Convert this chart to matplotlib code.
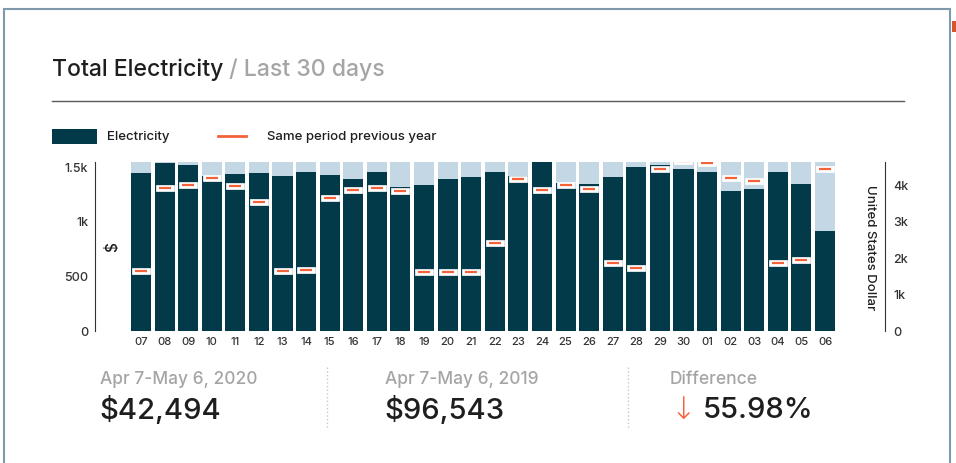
import matplotlib.pyplot as plt
from matplotlib.patches import Rectangle
from matplotlib.lines import Line2D

plt.rcParams['font.family'] = ['Inter', 'DejaVu Sans']
plt.rcParams['font.weight'] = 'medium'

# data
days = ['07', '08', '09', '10', '11', '12', '13', '14', '15', '16', '17', '18', '19', '20', '21',
        '22', '23', '24', '25', '26', '27', '28', '29', '30', '01', '02', '03', '04', '05', '06']
electricity = [1436, 1527, 1509, 1408, 1427, 1436, 1408, 1445, 1418, 1381, 1445, 1308, 1326, 1381, 1399,
               1445, 1408, 1540, 1345, 1336, 1399, 1490, 1509, 1472, 1445, 1272, 1290, 1445, 1336, 907]
prev_year = [1615, 3896, 3978, 4162, 3951, 3511, 1615, 1662, 3613, 3841, 3896, 3805, 1588, 1588, 1588,
             2385, 4135, 3832, 3978, 3868, 1846, 1698, 4418, 4637, 4582, 4162, 4099, 1835, 1918, 4418]
left_ticks = [0, 500, 1000, 1500]
left_labels = ['0', '500', '1k', '1.5k']
right_ticks = [0, 1000, 2000, 3000, 4000]
right_labels = ['0', '1k', '2k', '3k', '4k']
left_max = 1540
right_max = 4620

DARK = '#023a4a'
LIGHT = '#c3d7e5'
ORANGE = '#f4623a'
GREY = '#a5a5a8'
TXT = '#1e1e1e'

W, H = 956, 464
fig = plt.figure(figsize=(W / 100, H / 100), dpi=100)


def fx(px):
    return px / W


def fy(py):
    return 1 - py / H


# card border + header
fig.patches.append(Rectangle((fx(4), fy(470)), fx(946), 460 / H, transform=fig.transFigure,
                             fill=False, edgecolor='#7f99aa', linewidth=1.5))
fig.patches.append(Rectangle((fx(952), fy(33)), fx(4), 11 / H, transform=fig.transFigure,
                             color='#d9532c', linewidth=0))
t = fig.text(fx(52), fy(70), 'Total Electricity', fontsize=16.6, color=TXT, va='center', ha='left')
fig.canvas.draw()
bb = t.get_window_extent()
fig.text(bb.x1 / W, fy(70), ' / Last 30 days', fontsize=16.6, color=GREY, va='center', ha='left')
fig.lines.append(Line2D([fx(52), fx(904)], [fy(102), fy(102)], transform=fig.transFigure,
                        color='#5a5a5a', linewidth=1))

# legend
fig.patches.append(Rectangle((fx(52), fy(145)), fx(45), 15 / H, transform=fig.transFigure,
                             color=DARK, linewidth=0))
fig.text(fx(107), fy(137), 'Electricity', fontsize=9.5, color=TXT, va='center', ha='left')
fig.lines.append(Line2D([fx(218), fx(246)], [fy(137), fy(137)], transform=fig.transFigure,
                        color=ORANGE, linewidth=2))
fig.text(fx(267), fy(137), 'Same period previous year', fontsize=9.5, color=TXT, va='center', ha='left')

# chart
ax = fig.add_axes([fx(129.2), fy(331.5), 707.6 / W, 168.8 / H])
x = list(range(len(days)))
ax.bar(x, [left_max] * len(x), width=0.85, color=LIGHT, linewidth=0)
ax.bar(x, electricity, width=0.85, color=DARK, linewidth=0)
ax.set_xlim(-0.5, len(x) - 0.5)
ax.set_ylim(0, left_max)
ax.set_xticks(x)
ax.set_xticklabels(days)
ax.set_yticks(left_ticks)
ax.set_yticklabels(left_labels)
ax.tick_params(axis='x', length=0, pad=4, labelsize=8, labelcolor='#333333')
ax.tick_params(axis='y', length=0, pad=5, labelsize=9, labelcolor='#333333')
for s in ['top', 'right', 'bottom']:
    ax.spines[s].set_visible(False)
ax.spines['left'].set_position(('axes', -0.048))
ax.spines['left'].set_color('#333333')
ax.text(-0.024, 0.5, '$', transform=ax.transAxes, rotation=90, fontsize=11,
        ha='center', va='center', color=TXT)

ax2 = ax.twinx()
ax2.set_ylim(0, right_max)
rect = [(-1, -0.3), (1, -0.3), (1, 0.3), (-1, 0.3), (-1, -0.3)]
ax2.plot(x, prev_year, linestyle='none', marker=rect, markersize=13,
         markerfacecolor='white', markeredgecolor='white', markeredgewidth=0.5)
ax2.plot(x, prev_year, linestyle='none', marker='_', markersize=8.5,
         markeredgewidth=1.6, color=ORANGE)
ax2.set_yticks(right_ticks)
ax2.set_yticklabels(right_labels)
ax2.tick_params(axis='y', length=0, pad=6, labelsize=9, labelcolor='#333333')
for s in ['top', 'left', 'bottom']:
    ax2.spines[s].set_visible(False)
ax2.spines['right'].set_position(('axes', 1.068))
ax2.spines['right'].set_color('#333333')
ax2.text(1.047, 0.5, 'United States Dollar', transform=ax2.transAxes, rotation=270,
         fontsize=9.5, ha='center', va='center', color=TXT)

# summary
fig.text(fx(100), fy(380), 'Apr 7-May 6, 2020', fontsize=12.5, color=GREY, va='center', ha='left')
fig.text(fx(99), fy(411), '$42,494', fontsize=21, color=TXT, va='center', ha='left')
fig.text(fx(385), fy(380), 'Apr 7-May 6, 2019', fontsize=12.5, color=GREY, va='center', ha='left')
fig.text(fx(384), fy(411), '$96,543', fontsize=21, color=TXT, va='center', ha='left')
fig.text(fx(670), fy(380), 'Difference', fontsize=12.5, color=GREY, va='center', ha='left')
fig.text(fx(670), fy(411), '↓', fontsize=22, color=ORANGE, va='center', ha='left',
         family=['DejaVu Sans'], fontweight='light')
fig.text(fx(703), fy(411), '55.98%', fontsize=21, color=TXT, va='center', ha='left')
for sx in [327, 628]:
    fig.lines.append(Line2D([fx(sx), fx(sx)], [fy(368), fy(430)], transform=fig.transFigure,
                            color='#c8c8c8', linewidth=1, linestyle=':'))

fig.savefig('out.png', dpi=100)
